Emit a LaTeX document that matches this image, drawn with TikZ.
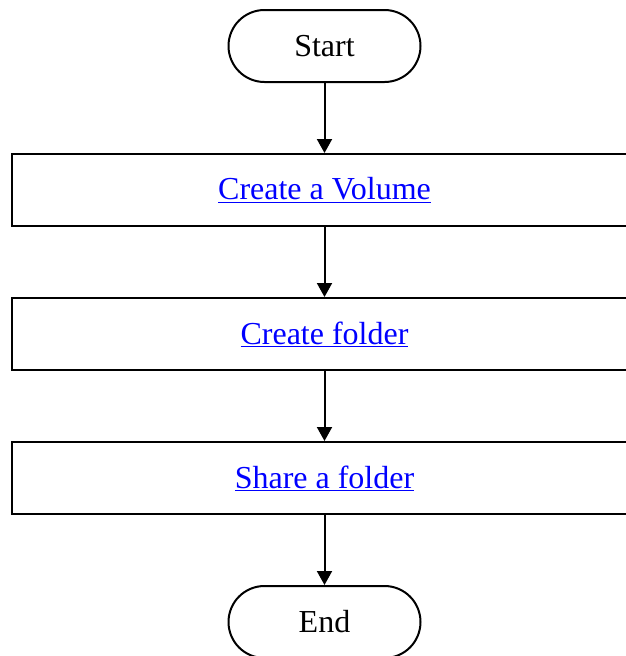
\documentclass[tikz,border=0pt]{standalone}
\usepackage{fontspec}
\setmainfont{Liberation Serif}
\usetikzlibrary{arrows.meta}
\definecolor{linkblue}{RGB}{0,0,255}
\tikzset{
  term/.style={draw=black, line width=2pt, rounded corners=36pt, minimum width=192pt, minimum height=72pt, inner sep=0pt, font=\fontsize{32}{38}\selectfont},
  procbox/.style={draw=black, line width=2pt, minimum width=626pt, minimum height=72pt, inner sep=0pt, text=linkblue, font=\fontsize{32}{38}\selectfont},
  flow/.style={line width=2pt, -{Triangle[length=14pt,width=15pt]}}
}
\begin{document}
\begin{tikzpicture}[x=1pt,y=-1pt]
\useasboundingbox (0,0) rectangle (626,656);
\clip (0,0) rectangle (626,656);
\node[term] (start) at (324.5,46) {Start};
\node[procbox] (vol) at (324.5,190) {\underline{Create a Volume}};
\node[procbox] (fold) at (324.5,334) {\underline{Create folder}};
\node[procbox] (share) at (324.5,478) {\underline{Share a folder}};
\node[term] (end) at (324.5,622) {End};
\draw[flow] (start) -- (vol);
\draw[flow] (vol) -- (fold);
\draw[flow] (fold) -- (share);
\draw[flow] (share) -- (end);
\end{tikzpicture}
\end{document}
